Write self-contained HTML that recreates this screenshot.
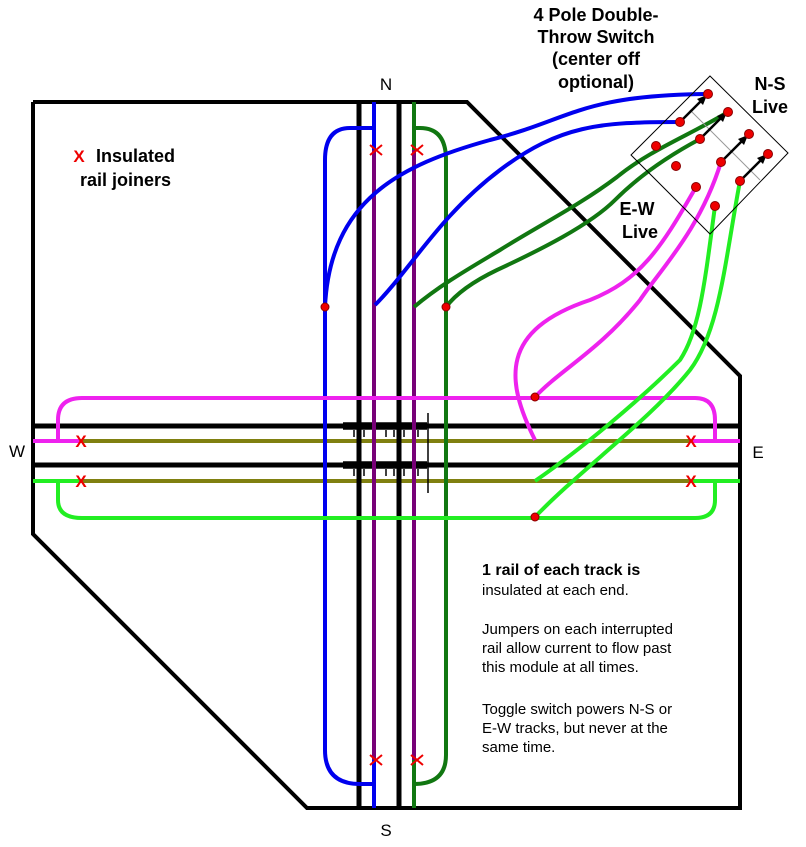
<!DOCTYPE html>
<html><head><meta charset="utf-8"><style>
body{margin:0;background:#fff}
svg{display:block}
text{font-family:"Liberation Sans",Arial,sans-serif}
</style></head><body>
<svg width="806" height="847" viewBox="0 0 806 847" xmlns="http://www.w3.org/2000/svg">
<rect width="806" height="847" fill="#fff"/>
<polyline points="33,102 467,102 740,376 740,808 307,808 33,534 33,102" fill="none" stroke="#000" stroke-width="4"/>
<line x1="33" y1="426" x2="740" y2="426" stroke="#000" stroke-width="5"/>
<line x1="33" y1="465" x2="740" y2="465" stroke="#000" stroke-width="5"/>
<line x1="80" y1="441" x2="690" y2="441" stroke="#808010" stroke-width="4"/>
<line x1="80" y1="481" x2="690" y2="481" stroke="#808010" stroke-width="4"/>
<line x1="33" y1="441" x2="80" y2="441" stroke="#ee22ee" stroke-width="4"/>
<line x1="690" y1="441" x2="740" y2="441" stroke="#ee22ee" stroke-width="4"/>
<line x1="33" y1="481" x2="80" y2="481" stroke="#22ee22" stroke-width="4"/>
<line x1="690" y1="481" x2="740" y2="481" stroke="#22ee22" stroke-width="4"/>
<g stroke="#000" stroke-width="1.5" fill="none">
<path d="M343,423 h84 M343,429 h84 M343,462 h84 M343,468 h84"/>
<path d="M354,430 v7 M364,430 v7 M386,430 v7 M394,430 v7 M404,430 v7 M418,430 v7"/>
<path d="M354,469 v7 M364,469 v7 M386,469 v7 M394,469 v7 M404,469 v7 M418,469 v7"/>
<line x1="428" y1="413" x2="428" y2="493"/>
</g>
<line x1="359" y1="102" x2="359" y2="808" stroke="#000" stroke-width="5"/>
<line x1="399" y1="102" x2="399" y2="808" stroke="#000" stroke-width="5"/>
<line x1="374" y1="150" x2="374" y2="760" stroke="#770077" stroke-width="4"/>
<line x1="414" y1="150" x2="414" y2="760" stroke="#770077" stroke-width="4"/>
<line x1="374" y1="102" x2="374" y2="150" stroke="#0000ee" stroke-width="4"/>
<line x1="374" y1="760" x2="374" y2="808" stroke="#0000ee" stroke-width="4"/>
<line x1="414" y1="102" x2="414" y2="150" stroke="#117711" stroke-width="4"/>
<line x1="414" y1="760" x2="414" y2="808" stroke="#117711" stroke-width="4"/>
<path d="M374,128 H350 Q325,128 325,160 V750 Q325,784 360,784 H374" fill="none" stroke="#0000ee" stroke-width="4"/>
<path d="M414,128 H420 Q446,128 446,160 V755 Q446,784 414,784" fill="none" stroke="#117711" stroke-width="4"/>
<path d="M58,441 V420 Q58,398 82,398 H695 Q715,398 715,420 V441" fill="none" stroke="#ee22ee" stroke-width="4"/>
<path d="M58,481 V500 Q58,518 82,518 H695 Q715,518 715,500 V481" fill="none" stroke="#22ee22" stroke-width="4"/>
<path d="M708,94 C580,95 570,120 490,140 C400,165 330,200 325,307" fill="none" stroke="#0000ee" stroke-width="4"/>
<path d="M680,122 C600,122 560,125 500,170 C440,215 410,270 375,305" fill="none" stroke="#0000ee" stroke-width="4"/>
<path d="M728,112 C690,135 650,150 617,177 C580,205 540,225 500,250 C470,268 440,285 414,307" fill="none" stroke="#117711" stroke-width="4"/>
<path d="M700,139 C670,155 640,175 615,200 C590,225 540,250 497,270 C470,283 455,295 446,307" fill="none" stroke="#117711" stroke-width="4"/>
<path d="M696,187 C660,250 640,280 590,300 C500,330 505,380 535,440" fill="none" stroke="#ee22ee" stroke-width="4"/>
<path d="M721,162 C700,230 660,270 640,300 C600,350 560,370 535,397" fill="none" stroke="#ee22ee" stroke-width="4"/>
<path d="M715,206 C705,280 700,330 680,360 C640,400 580,450 535,481" fill="none" stroke="#22ee22" stroke-width="4"/>
<path d="M740,181 C725,260 720,330 690,370 C650,420 580,470 535,517" fill="none" stroke="#22ee22" stroke-width="4"/>
<g fill="#e00" stroke="#800" stroke-width="1">
<circle cx="325" cy="307" r="4"/><circle cx="446" cy="307" r="4"/>
<circle cx="535" cy="397" r="4"/><circle cx="535" cy="517" r="4"/>
</g>
<polygon points="710,76 788,153 710,234 631,155" fill="none" stroke="#000" stroke-width="1"/>
<g stroke="#999" stroke-width="1"><line x1="690" y1="110" x2="760" y2="180"/></g>
<g stroke="#000" stroke-width="2.5">
<line x1="680" y1="122" x2="702" y2="100"/><line x1="700" y1="139" x2="722" y2="117"/>
<line x1="721" y1="162" x2="743" y2="140"/><line x1="740" y1="181" x2="762" y2="159"/>
</g>
<g fill="#000">
<polygon points="707,95 697,99 703,105"/><polygon points="727,112 717,116 723,122"/>
<polygon points="748,135 738,139 744,145"/><polygon points="767,154 757,158 763,164"/>
</g>
<g fill="#e00" stroke="#800" stroke-width="1">
<circle cx="708" cy="94" r="4.5"/><circle cx="680" cy="122" r="4.5"/><circle cx="656" cy="146" r="4.5"/><circle cx="676" cy="166" r="4.5"/>
<circle cx="728" cy="112" r="4.5"/><circle cx="700" cy="139" r="4.5"/><circle cx="749" cy="134" r="4.5"/><circle cx="721" cy="162" r="4.5"/>
<circle cx="768" cy="154" r="4.5"/><circle cx="740" cy="181" r="4.5"/><circle cx="696" cy="187" r="4.5"/><circle cx="715" cy="206" r="4.5"/>
</g>
<g stroke="#e00" stroke-width="2">
<path d="M370,145 l12,10 M370,155 l12,-10"/><path d="M411,145 l12,10 M411,155 l12,-10"/>
<path d="M370,755 l12,10 M370,765 l12,-10"/><path d="M411,755 l12,10 M411,765 l12,-10"/>
</g>
<g fill="#e00" font-size="17" font-weight="bold" text-anchor="middle">
<text x="81" y="447">X</text><text x="81" y="487">X</text>
<text x="691" y="447">X</text><text x="691" y="487">X</text>
<text x="79" y="162">X</text>
</g>
<g font-size="17" text-anchor="middle">
<text x="386" y="90">N</text><text x="386" y="836">S</text>
<text x="17" y="457">W</text><text x="758" y="458">E</text>
</g>
<g font-size="18" font-weight="bold">
<text x="96" y="162">Insulated</text><text x="80" y="186">rail joiners</text>
<text x="596" y="21" text-anchor="middle">4 Pole Double-</text>
<text x="596" y="43" text-anchor="middle">Throw Switch</text>
<text x="596" y="65" text-anchor="middle">(center off</text>
<text x="596" y="88" text-anchor="middle">optional)</text>
<text x="770" y="90" text-anchor="middle">N-S</text><text x="770" y="113" text-anchor="middle">Live</text>
<text x="637" y="215" text-anchor="middle">E-W</text><text x="640" y="238" text-anchor="middle">Live</text>
</g>
<g font-size="15">
<text x="482" y="575" font-weight="bold" font-size="16">1 rail of each track is</text>
<text x="482" y="595">insulated at each end.</text>
<text x="482" y="634">Jumpers on each interrupted</text>
<text x="482" y="653">rail allow current to flow past</text>
<text x="482" y="672">this module at all times.</text>
<text x="482" y="714">Toggle switch powers N-S or</text>
<text x="482" y="733">E-W tracks, but never at the</text>
<text x="482" y="752">same time.</text>
</g>
</svg>
</body></html>
